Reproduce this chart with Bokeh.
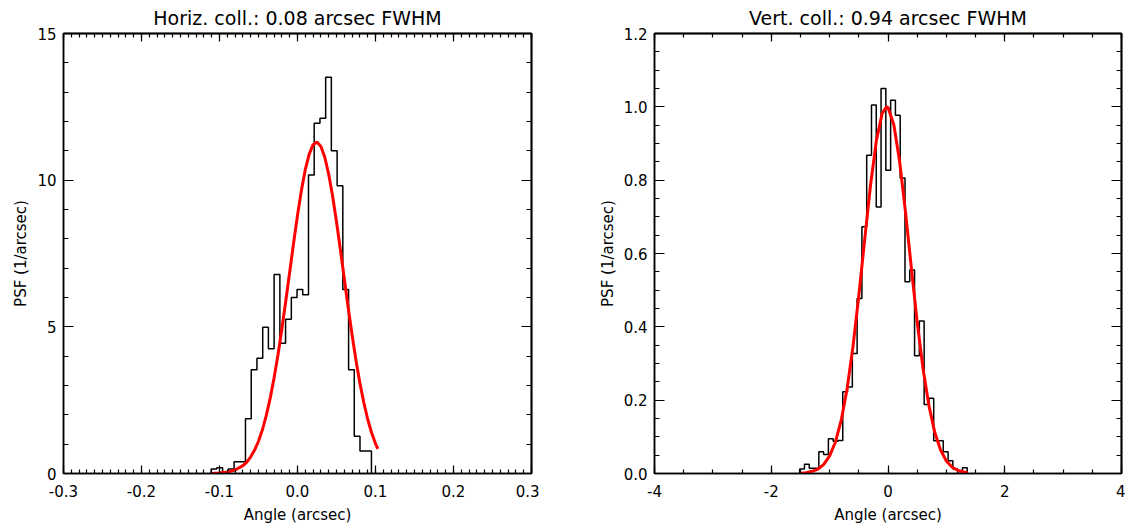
from bokeh.plotting import figure
from bokeh.models import LinearAxis, FixedTicker, Range1d
from bokeh.layouts import row
from bokeh.embed import file_html
from bokeh.resources import INLINE

# ---------------- data: left panel (horizontal collimation) ----------------
h_title = "Horiz. coll.: 0.08 arcsec FWHM"
h_edges = [-0.1107, -0.1034, -0.0960, -0.0887, -0.0813, -0.0740, -0.0667,
           -0.0593, -0.0520, -0.0446, -0.0373, -0.0300, -0.0226, -0.0153,
           -0.0079, -0.0006, 0.0067, 0.0141, 0.0214, 0.0288, 0.0361, 0.0434,
           0.0508, 0.0581, 0.0655, 0.0728, 0.0801, 0.0875, 0.0948]
h_psf = [0.15, 0.2, 0.05, 0.15, 0.4, 0.4, 1.87, 3.54, 3.93, 4.99, 4.25, 6.78,
         4.44, 5.26, 6.0, 6.27, 6.09, 10.18, 11.94, 12.11, 13.51, 11.0, 9.81,
         6.27, 3.54, 1.27, 0.77, 0.77]
h_fit_x = [-0.111, -0.10, -0.09, -0.08, -0.07, -0.065, -0.06, -0.055, -0.05,
           -0.045, -0.04, -0.035, -0.03, -0.025, -0.02, -0.015, -0.01, -0.005,
           0.0, 0.005, 0.01, 0.015, 0.02, 0.025, 0.03, 0.035, 0.04, 0.045,
           0.05, 0.055, 0.06, 0.065, 0.07, 0.075, 0.08, 0.085, 0.09, 0.095,
           0.10, 0.103]
h_fit_y = [0.0, 0.02, 0.05, 0.12, 0.27, 0.39, 0.57, 0.80, 1.10, 1.49, 1.98,
           2.57, 3.26, 4.05, 4.94, 5.89, 6.87, 7.86, 8.80, 9.65, 10.36, 10.89,
           11.21, 11.30, 11.15, 10.78, 10.20, 9.46, 8.58, 7.63, 6.64, 5.65,
           4.72, 3.85, 3.08, 2.42, 1.85, 1.39, 1.02, 0.84]
h_xticks = [-0.3, -0.2, -0.1, 0.0, 0.1, 0.2, 0.3]
h_xlabels = ["-0.3", "-0.2", "-0.1", "0.0", "0.1", "0.2", "0.3"]
h_yticks = [0, 5, 10, 15]
h_ylabels = ["0", "5", "10", "15"]

# ---------------- data: right panel (vertical collimation) ----------------
v_title = "Vert. coll.: 0.94 arcsec FWHM"
v_edges = [-1.513, -1.431, -1.349, -1.267, -1.185, -1.103, -1.021, -0.939,
           -0.857, -0.775, -0.693, -0.611, -0.529, -0.447, -0.365, -0.283,
           -0.201, -0.119, -0.037, 0.045, 0.127, 0.209, 0.291, 0.373, 0.455,
           0.537, 0.619, 0.701, 0.783, 0.865, 0.947, 1.029, 1.111, 1.193,
           1.275, 1.357]
v_psf = [0.012, 0.025, 0.014, 0.014, 0.059, 0.052, 0.095, 0.088, 0.09, 0.223,
         0.236, 0.327, 0.477, 0.673, 0.868, 1.005, 0.727, 1.05, 0.827, 1.018,
         0.977, 0.806, 0.523, 0.555, 0.321, 0.416, 0.188, 0.205, 0.089, 0.089,
         0.059, 0.035, 0.012, 0.0, 0.016]
v_fit_x = [-1.49, -1.4, -1.3, -1.2, -1.1, -1.0, -0.9, -0.8, -0.7, -0.6, -0.5,
           -0.4, -0.3, -0.2, -0.1, -0.025, 0.0, 0.1, 0.2, 0.3, 0.4, 0.5, 0.6,
           0.7, 0.8, 0.9, 1.0, 1.1, 1.2, 1.3, 1.36]
v_fit_y = [0.001, 0.002, 0.006, 0.012, 0.025, 0.048, 0.086, 0.146, 0.232,
           0.346, 0.485, 0.637, 0.785, 0.907, 0.982, 1.0, 0.998, 0.951, 0.850,
           0.713, 0.561, 0.413, 0.286, 0.186, 0.113, 0.064, 0.034, 0.017,
           0.008, 0.004, 0.002]
v_xticks = [-4, -2, 0, 2, 4]
v_xlabels = ["-4", "-2", "0", "2", "4"]
v_yticks = [0.0, 0.2, 0.4, 0.6, 0.8, 1.0, 1.2]
v_ylabels = ["0.0", "0.2", "0.4", "0.6", "0.8", "1.0", "1.2"]

x_label = "Angle (arcsec)"
y_label = "PSF (1/arcsec)"

FONT = "DejaVu Sans"


def minor_list(lo, hi, step):
    n = int(round((hi - lo) / step))
    return [round(lo + i * step, 6) for i in range(n + 1)]


def base_axis_style(ax):
    ax.axis_line_color = "black"
    ax.axis_line_width = 1.5
    ax.major_tick_line_color = "black"
    ax.minor_tick_line_color = "black"
    ax.major_tick_line_width = 1.2
    ax.minor_tick_line_width = 1.2
    ax.major_tick_out = 0
    ax.minor_tick_out = 0


def style_label_axis(ax, ticks, minors, labels, tick_major, tick_minor):
    ax.ticker = FixedTicker(ticks=ticks, minor_ticks=minors)
    base_axis_style(ax)
    ax.major_tick_in = tick_major
    ax.minor_tick_in = tick_minor
    ax.major_label_overrides = {t: l for t, l in zip(ticks, labels)}
    ax.major_label_text_font = FONT
    ax.major_label_text_font_size = "15px"
    ax.major_label_text_color = "black"
    ax.axis_label_text_font = FONT
    ax.axis_label_text_font_size = "15px"
    ax.axis_label_text_font_style = "normal"
    ax.axis_label_text_color = "black"


def mirror_axis(positions, length):
    # tick marks only (no labels): positions given as minor ticks
    ax = LinearAxis(ticker=FixedTicker(ticks=[], minor_ticks=positions))
    base_axis_style(ax)
    ax.major_tick_in = 0
    ax.minor_tick_in = length
    return ax


def make_panel(title, xr, yr, xt, xl, xminor, yt, yl, yminor, edges, psf,
               fx, fy, fw, bl, br):
    p = figure(x_range=Range1d(*xr), y_range=Range1d(*yr),
               frame_width=fw, frame_height=440,
               min_border_left=bl, min_border_right=br,
               min_border_top=32, min_border_bottom=48,
               output_backend="svg", toolbar_location=None,
               x_axis_label=x_label, y_axis_label=y_label)
    p.title.text = title
    p.title.text_font = FONT
    p.title.text_font_size = "19px"
    p.title.text_font_style = "normal"
    p.title.text_color = "black"
    p.title.align = "center"
    p.title.standoff = 9
    p.grid.visible = False
    p.outline_line_color = "black"
    p.outline_line_width = 1.5
    p.background_fill_color = "white"
    p.border_fill_color = "white"

    style_label_axis(p.xaxis[0], xt, xminor, xl, 8, 4)
    style_label_axis(p.yaxis[0], yt, yminor, yl, 10, 5)
    p.xaxis[0].major_label_standoff = 11
    p.xaxis[0].axis_label_standoff = 6
    p.yaxis[0].major_label_standoff = 7
    p.yaxis[0].axis_label_standoff = 4

    p.add_layout(mirror_axis(xminor, 4), "above")
    p.add_layout(mirror_axis(xt, 8), "above")
    p.add_layout(mirror_axis(yminor, 5), "right")
    p.add_layout(mirror_axis(yt, 10), "right")

    sx = [edges[0]] + list(edges)
    sy = [0.0] + list(psf) + [0.0]
    p.step(sx, sy, mode="after", line_color="black", line_width=1.5)
    p.line(fx, fy, line_color="red", line_width=3)
    return p


p1 = make_panel(h_title, (-0.3, 0.3), (0, 15), h_xticks, h_xlabels,
                minor_list(-0.3, 0.3, 0.01), h_yticks, h_ylabels,
                minor_list(0, 15, 1), h_edges, h_psf, h_fit_x, h_fit_y,
                468, 63, 8)
p2 = make_panel(v_title, (-4, 4), (0, 1.2), v_xticks, v_xlabels,
                minor_list(-4, 4, 0.5), v_yticks, v_ylabels,
                minor_list(0, 1.2, 0.05), v_edges, v_psf, v_fit_x, v_fit_y,
                467, 115, 4)

layout = row(p1, p2)
open("out.html", "w").write(file_html(layout, INLINE))
